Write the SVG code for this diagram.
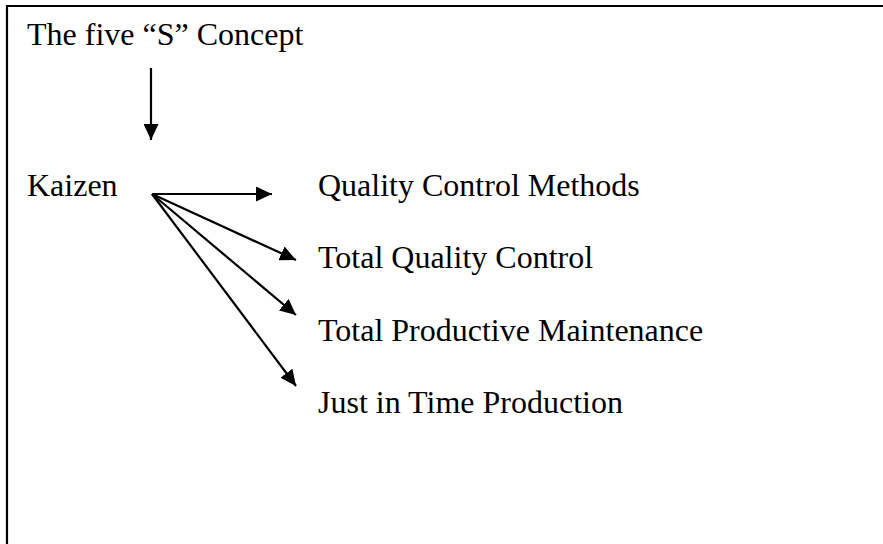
<svg xmlns="http://www.w3.org/2000/svg" width="883" height="544" viewBox="0 0 883 544">
  <style>
    .label { font-family: "Liberation Serif", "Times New Roman", serif; font-size: 32px; fill: #000; }
    .frame { stroke: #000; stroke-width: 2.2; fill: none; }
    .link { stroke: #000; stroke-width: 2.2; fill: none; marker-end: url(#head); }
  </style>
  <defs>
    <marker id="head" viewBox="0 0 16 15" refX="16" refY="7.5" markerWidth="16" markerHeight="15" markerUnits="userSpaceOnUse" orient="auto">
      <path d="M0,0 L16,7.5 L0,15 Z" fill="#000"/>
    </marker>
  </defs>
  <rect width="883" height="544" fill="#fff"/>
  <!-- open frame: top and left edges only -->
  <path class="frame" d="M7,544 L7,6 L883,6"/>

  <g id="five-s">
    <text class="label" x="27" y="45">The five “S” Concept</text>
  </g>
  <g id="kaizen">
    <text class="label" x="27" y="196">Kaizen</text>
  </g>
  <g id="qc-methods">
    <text class="label" x="318" y="196">Quality Control Methods</text>
  </g>
  <g id="tqc">
    <text class="label" x="318" y="268">Total Quality Control</text>
  </g>
  <g id="tpm">
    <text class="label" x="318" y="341">Total Productive Maintenance</text>
  </g>
  <g id="jit">
    <text class="label" x="318" y="413">Just in Time Production</text>
  </g>

  <g id="connectors">
    <line class="link" x1="151" y1="68" x2="151" y2="140"/>
    <line class="link" x1="152" y1="194" x2="272" y2="194"/>
    <line class="link" x1="152" y1="194" x2="296" y2="260"/>
    <line class="link" x1="152" y1="194" x2="296" y2="315"/>
    <line class="link" x1="152" y1="194" x2="296" y2="386"/>
  </g>
</svg>
